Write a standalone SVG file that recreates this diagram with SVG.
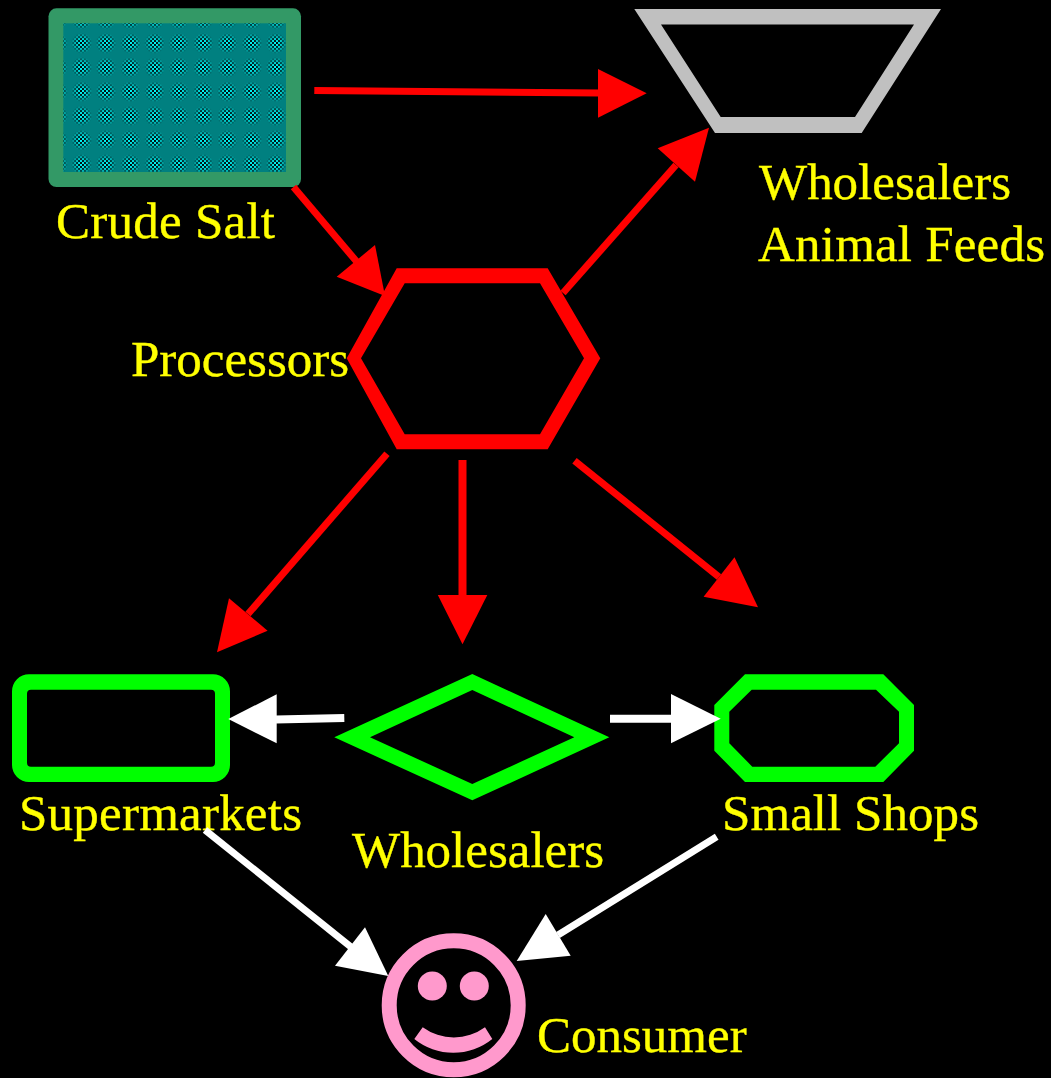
<svg xmlns="http://www.w3.org/2000/svg" width="1051" height="1078" viewBox="0 0 1051 1078">
<style>
text{font-family:"Liberation Serif","Times New Roman",serif;font-size:51px;fill:#ffff00;stroke:#ffff00;stroke-width:.35}
.ring{fill-rule:evenodd}
.green{fill:#00ff00}
.r{stroke:#ff0000;stroke-width:7;fill:none}
.w{stroke:#ffffff;stroke-width:8;fill:none}
.rh{fill:#ff0000}
.wh{fill:#ffffff}
.pink{fill:#ff99cc}
</style>
<defs>
<pattern id="checker" patternUnits="userSpaceOnUse" width="4" height="4">
<rect x="0" y="0" width="2" height="2" fill="#00ffff"/>
<rect x="2" y="2" width="2" height="2" fill="#00ffff"/>
<rect x="2" y="0" width="2" height="2" fill="#000000"/>
<rect x="0" y="2" width="2" height="2" fill="#000000"/>
</pattern>
<radialGradient id="spot">
<stop offset="0" stop-color="#fff"/>
<stop offset="0.35" stop-color="#aaa"/>
<stop offset="0.85" stop-color="#000"/>
</radialGradient>
<pattern id="spots" patternUnits="userSpaceOnUse" x="69.55" y="31.2" width="24.3" height="24.2">
<rect width="24.3" height="24.2" fill="#000"/>
<circle cx="12.15" cy="12.1" r="12.1" fill="url(#spot)"/>
</pattern>
<mask id="spotMask" maskUnits="userSpaceOnUse" x="63" y="23" width="224" height="150">
<rect x="63" y="23" width="224" height="150" fill="url(#spots)"/>
</mask>
</defs>
<rect width="1051" height="1078" fill="#000000"/>

<g id="crude-salt">
<rect x="48.5" y="8.3" width="252.5" height="178.7" rx="8" fill="#339966"/>
<rect x="63.3" y="23.3" width="222.7" height="148.7" fill="#008080"/>
<rect x="63.3" y="23.3" width="222.7" height="148.7" fill="url(#checker)" mask="url(#spotMask)"/>
<text x="56" y="238" textLength="219">Crude Salt</text>
</g>

<g id="wholesalers-animal-feeds">
<path class="ring" fill="#c0c0c0" d="M634.3 9H941L861.7 133H715ZM661 24.5L720.7 117H855L914 24.5Z"/>
<text x="759" y="199" textLength="252">Wholesalers</text>
<text x="758" y="261" textLength="287">Animal Feeds</text>
</g>

<g id="processors">
<path class="ring" fill="#ff0000" d="M396.7 268.3H547.7L600.3 358.3L547.7 449.3H396.7L346.7 358.3ZM404.7 283.3L361 358.3L404.7 434.3H540L584 358.3L540 283.3Z"/>
<text x="131" y="376">Processors</text>
</g>

<g id="supermarkets">
<path class="ring green" d="M29 674.3H213A17 17 0 0 1 230 691.3V765A17 17 0 0 1 213 782H29A17 17 0 0 1 12 765V691.3A17 17 0 0 1 29 674.3ZM31 689.7A4 4 0 0 0 27 693.7V762.7A4 4 0 0 0 31 766.7H211A4 4 0 0 0 215 762.7V693.7A4 4 0 0 0 211 689.7Z"/>
<text x="19" y="830" textLength="283">Supermarkets</text>
</g>

<g id="wholesalers">
<path class="ring green" d="M472.3 674L609.3 737.3L472.3 800.3L334.3 737.3ZM472.3 690L370 737.3L472.3 784L574.3 737.3Z"/>
<text x="352" y="867" textLength="252">Wholesalers</text>
</g>

<g id="small-shops">
<path class="ring green" d="M745 674.3H883.3L914 705V750.7L883.3 782H745L714.3 750.7V705ZM751.7 689.7L729.3 711.7V743.3L752.3 766.7H875.3L899 743.3V711.7L876 689.7Z"/>
<text x="722" y="830" textLength="257">Small Shops</text>
</g>

<g id="consumer">
<circle cx="453.7" cy="1005.3" r="64.5" fill="none" stroke="#ff99cc" stroke-width="15"/>
<circle class="pink" cx="432.3" cy="986" r="14.5"/>
<circle class="pink" cx="474.3" cy="986" r="14.5"/>
<path class="pink" d="M422.7 1027.3A53 53 0 0 0 485 1027.3L492.3 1039A62 62 0 0 1 414.3 1039Z"/>
<text x="537" y="1052">Consumer</text>
</g>

<g id="connectors">
<line class="r" x1="314.3" y1="90.5" x2="600" y2="93"/>
<polygon class="rh" points="598,69 646.7,93.3 598,117.7"/>
<line class="r" x1="293.5" y1="187" x2="357" y2="262"/>
<polygon class="rh" points="375,245 336.7,276.7 385,296"/>
<line class="r" x1="563" y1="293" x2="676" y2="165"/>
<polygon class="rh" points="657.7,148.3 695,181.7 709,127.7"/>
<line class="r" x1="387" y1="453.7" x2="248" y2="614"/>
<polygon class="rh" points="229,598.3 267.6,630.7 217,652.3"/>
<line class="r" style="stroke-width:8" x1="462.5" y1="460" x2="462.5" y2="596"/>
<polygon class="rh" points="437.8,595 487.3,595 462.5,644.3"/>
<line class="r" x1="574.5" y1="460.7" x2="719" y2="577"/>
<polygon class="rh" points="734.5,557.3 703.6,596.7 758,607.3"/>
<line class="w" x1="344.3" y1="718" x2="276" y2="719.5"/>
<polygon class="wh" points="276.7,694.3 276.7,743.3 228.3,719"/>
<line class="w" x1="610" y1="718.7" x2="672" y2="718.7"/>
<polygon class="wh" points="671,694 671,743.3 720.7,718.7"/>
<line class="w" style="stroke-width:7" x1="205" y1="830" x2="351" y2="947"/>
<polygon class="wh" points="365,927.3 335,965.7 388.3,976"/>
<line class="w" style="stroke-width:7" x1="716.7" y1="836.7" x2="558" y2="935"/>
<polygon class="wh" points="545.7,914 570.7,955.7 516.7,961"/>
</g>
</svg>
